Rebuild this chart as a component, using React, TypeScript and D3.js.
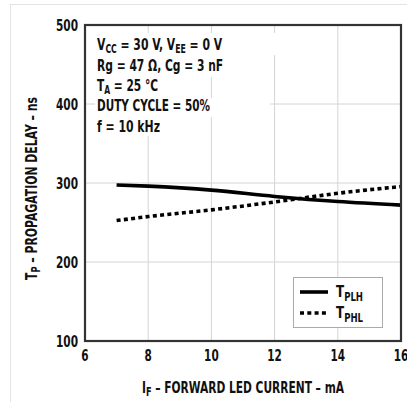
import React, { useLayoutEffect, useRef, useState } from "react";
import * as d3 from "d3";

// Data
const currents = [7, 8, 10, 12, 14, 16];
const tplh = [297.5, 296, 291, 283, 276.5, 272];
const tphl = [252.5, 257.5, 266, 276, 287, 295.5];
const xTicks = [6, 8, 10, 12, 14, 16];
const yTicks = [100, 200, 300, 400, 500];
const xGrid = [8, 10, 12, 14];
const yGrid = [200, 300, 400];

const FONT = "'DejaVu Sans Condensed', 'DejaVu Sans', sans-serif";

function FitText(props: {
  x: number;
  y: number;
  width: number;
  anchor?: string;
  fontSize: number;
  rotate?: number;
  children: React.ReactNode;
}) {
  const { x, y, width, anchor = "start", fontSize, rotate = 0, children } = props;
  const ref = useRef<SVGTextElement>(null);
  const [sx, setSx] = useState(0.78);
  useLayoutEffect(() => {
    if (ref.current) {
      const len = ref.current.getComputedTextLength();
      if (len > 0) setSx(width / len);
    }
  }, [width]);
  return (
    <g transform={`translate(${x},${y}) rotate(${rotate}) scale(${sx},1)`}>
      <text ref={ref} x={0} y={0} fontSize={fontSize} textAnchor={anchor as any} fill="#111">
        {children}
      </text>
    </g>
  );
}

export default function App() {
  const W = 407;
  const H = 402;
  const left = 85, right = 401, top = 25, bottom = 341;
  const x = d3.scaleLinear().domain([6, 16]).range([left, right]);
  const y = d3.scaleLinear().domain([100, 500]).range([bottom, top]);

  const line = d3
    .line<number>()
    .x((_, i) => x(currents[i]))
    .y((d) => y(d))
    .curve(d3.curveMonotoneX);

  const annX = 97;
  const fs = 16;
  const sub = 11.5;

  return (
    <svg
      width={W}
      height={H}
      style={{ position: "absolute", left: 0, top: 0, background: "#fff" }}
      fontFamily={FONT}
      fontWeight="bold"
    >
      <rect x={10.5} y={4.5} width={W} height={H} fill="#fff" stroke="#e3e3e3" strokeWidth={1} />

      {/* grid */}
      {xGrid.map((v) => (
        <line key={"gx" + v} x1={x(v)} x2={x(v)} y1={top} y2={bottom} stroke="#d4d4d4" strokeWidth={1} />
      ))}
      {yGrid.map((v) => (
        <line key={"gy" + v} x1={left} x2={right} y1={y(v)} y2={y(v)} stroke="#d4d4d4" strokeWidth={1} />
      ))}

      {/* white boxes behind annotation */}
      <rect x={95} y={33} width={187} height={22} fill="#fff" />
      <rect x={95} y={55} width={135} height={22} fill="#fff" />
      <rect x={95} y={77} width={70} height={21} fill="#fff" />
      <rect x={95} y={98} width={175} height={19} fill="#fff" />
      <rect x={95} y={117} width={70} height={19} fill="#fff" />

      {/* annotation */}
      <FitText x={annX} y={50} width={125} fontSize={fs}>
        V<tspan fontSize={sub} dy={3}>CC</tspan>
        <tspan dy={-3}> = 30 V, V</tspan>
        <tspan fontSize={sub} dy={3}>EE</tspan>
        <tspan dy={-3}> = 0 V</tspan>
      </FitText>
      <FitText x={annX} y={71} width={126} fontSize={fs}>
        Rg = 47 Ω, Cg = 3 nF
      </FitText>
      <FitText x={annX} y={91} width={61} fontSize={fs}>
        T<tspan fontSize={sub} dy={3}>A</tspan>
        <tspan dy={-3}> = 25 °C</tspan>
      </FitText>
      <FitText x={annX} y={111} width={113} fontSize={fs}>
        DUTY CYCLE = 50%
      </FitText>
      <FitText x={annX} y={132} width={63} fontSize={fs}>
        f = 10 kHz
      </FitText>

      {/* data lines */}
      <path d={line(tplh) || ""} fill="none" stroke="#000" strokeWidth={3.6} />
      <path d={line(tphl) || ""} fill="none" stroke="#000" strokeWidth={3.6} strokeDasharray="4 3.3" />

      {/* frame */}
      <rect x={left} y={top} width={right - left} height={bottom - top} fill="none" stroke="#333" strokeWidth={2.2} />

      {/* y tick labels */}
      {yTicks.map((v) => (
        <FitText key={"yt" + v} x={left - 7} y={y(v) + 5.5} width={22} fontSize={15} anchor="end">
          {v}
        </FitText>
      ))}
      {/* x tick labels */}
      {xTicks.map((v) => (
        <FitText key={"xt" + v} x={x(v)} y={361} width={String(v).length * 7.3} fontSize={15} anchor="middle">
          {v}
        </FitText>
      ))}

      {/* axis titles */}
      <FitText x={(left + right) / 2} y={393} width={202} fontSize={15} anchor="middle">
        I<tspan fontSize={sub} dy={3}>F</tspan>
        <tspan dy={-3}> – FORWARD LED CURRENT – mA</tspan>
      </FitText>
      <FitText x={37} y={188.5} width={183} fontSize={15} anchor="middle" rotate={-90}>
        T<tspan fontSize={sub} dy={3}>P</tspan>
        <tspan dy={-3}> – PROPAGATION DELAY – ns</tspan>
      </FitText>

      {/* legend */}
      <rect x={293.5} y={277.5} width={89} height={50} fill="#fff" stroke="#aaa" strokeWidth={1} />
      <line x1={300} x2={328} y1={292} y2={292} stroke="#000" strokeWidth={3.6} />
      <line x1={300} x2={328} y1={313} y2={313} stroke="#000" strokeWidth={3.6} strokeDasharray="4 3.3" />
      <FitText x={336} y={297} width={27} fontSize={16}>
        T<tspan fontSize={sub} dy={4}>PLH</tspan>
      </FitText>
      <FitText x={336} y={318} width={27} fontSize={16}>
        T<tspan fontSize={sub} dy={4}>PHL</tspan>
      </FitText>
    </svg>
  );
}
